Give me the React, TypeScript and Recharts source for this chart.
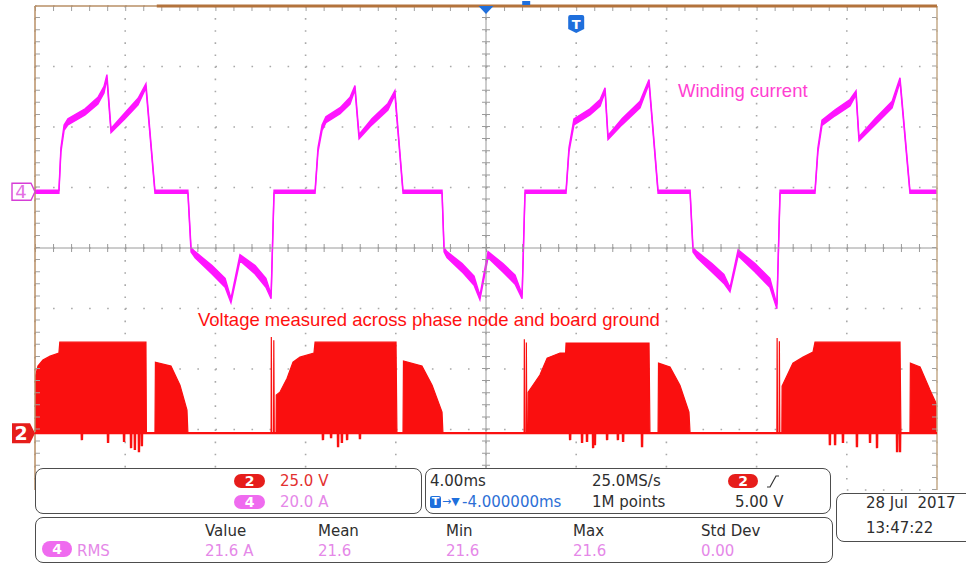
import React from 'react';
import { ComposedChart, Area, Line, XAxis, YAxis, CartesianGrid, ReferenceLine } from 'recharts';

// 10 horizontal divisions of 4.00 ms, 8 vertical divisions
const timeTicks = [0, 4, 8, 12, 16, 20, 24, 28, 32, 36, 40];
const divTicks = [-4, -3, -2, -1, 0, 1, 2, 3, 4];

// channel 4: current probe, channel 2: phase node voltage
const CH4_SCALE = 20; // A/div
const CH4_OFFSET = 0.93; // ground marker, div above centre
const CH2_SCALE = 25; // V/div
const CH2_OFFSET = -3.06;

const CENTER_TIME = 20; // ms
const TRIGGER_TIME = 24; // ms

// [time ms, current A, ripple A p-p]
const windingCurrent: [number, number, number][] = [
  [0.0, 0, 1.0], [1.06, 0, 1.0], [1.15, 13.9, 1.4], [1.29, 21.2, 1.8], [1.46, 23.1, 2.0],
  [2.22, 26.4, 2.0], [2.79, 30.1, 2.2], [3.06, 33.7, 2.2], [3.19, 38.0, 1.4],
  [3.37, 20.2, 1.4], [3.99, 25.1, 2.0], [4.57, 29.8, 2.2], [4.92, 35.0, 1.4],
  [5.32, 0, 1.0], [6.78, 0, 1.0], [6.92, -19.2, 1.4], [7.1, -20.8, 2.0],
  [7.85, -25.8, 2.8], [8.43, -30.1, 3.0], [8.69, -36.0, 1.4], [9.09, -21.8, 2.0],
  [9.76, -25.8, 2.8], [10.24, -30.1, 3.0], [10.47, -34.7, 1.4], [10.6, 0, 1.0],

  [12.42, 0, 1.0], [12.55, 13.9, 1.4], [12.73, 21.2, 1.8], [12.9, 23.8, 2.0],
  [13.53, 26.8, 2.0], [13.97, 30.1, 2.2], [14.19, 34.4, 1.4], [14.37, 18.2, 1.4],
  [14.94, 23.1, 2.0], [15.65, 28.1, 2.2], [15.96, 32.7, 1.4], [16.32, 0, 1.0],
  [18.05, 0, 1.0], [18.14, -19.2, 1.4], [18.27, -20.8, 2.0], [18.94, -25.1, 2.8],
  [19.47, -29.4, 3.0], [19.73, -35.0, 1.4], [20.09, -20.8, 2.0], [20.75, -25.1, 2.8],
  [21.29, -29.1, 3.0], [21.6, -34.7, 1.4], [21.73, 0, 1.0],

  [23.55, 0, 1.0], [23.68, 13.9, 1.4], [23.9, 23.1, 2.0], [24.61, 26.4, 2.0],
  [25.06, 29.4, 2.2], [25.28, 33.7, 1.4], [25.41, 17.9, 1.4], [26.03, 23.1, 2.0],
  [26.83, 28.8, 2.2], [27.23, 36.4, 1.4], [27.63, 0, 1.0], [29.05, 0, 1.0],
  [29.18, -19.2, 1.4], [29.36, -20.8, 2.0], [30.02, -25.1, 2.8], [30.55, -28.8, 3.0],
  [30.82, -32.4, 1.4], [31.18, -20.2, 2.0], [31.93, -25.1, 2.8], [32.59, -30.1, 3.0],
  [32.9, -38.0, 1.4], [33.04, 0, 1.0],

  [34.59, 0, 1.0], [34.72, 13.9, 1.4], [34.9, 22.8, 1.8], [35.48, 26.1, 2.0],
  [36.14, 29.4, 2.2], [36.41, 32.7, 1.4], [36.54, 17.5, 1.4], [37.25, 23.1, 2.0],
  [38.01, 28.8, 2.2], [38.36, 37.0, 1.4], [38.8, 0, 1.0], [40.0, 0, 1.0],
];

// [time ms, V] envelope of the switching phase node (PWM fills solid at this timebase)
const phaseVoltage: [number, number][] = [
  [0.0, 22.7], [0.13, 27.7], [0.35, 30.2], [0.67, 31.8], [1.06, 33.1], [1.1, 37.6],
  [4.92, 37.6], [4.94, 0], [5.32, 0], [5.34, 29.3], [6.03, 27.7], [6.43, 19.8],
  [6.74, 9.5], [6.78, 0],
  [10.47, 0], [10.48, 39.7], [10.5, 0], [10.58, 0], [10.59, 38.4], [10.61, 0],
  [10.69, 0], [10.7, 15.7], [10.86, 16.9], [11.18, 22.7], [11.44, 29.3], [11.75, 31.4],
  [12.37, 33.1], [12.42, 37.6], [16.01, 37.6], [16.05, 0], [16.32, 0], [16.34, 29.8],
  [17.16, 27.7], [17.61, 19.8], [18.05, 8.7], [18.09, 0],
  [21.69, 0], [21.7, 38.8], [21.72, 0], [21.78, 0], [21.79, 37.5], [21.81, 0],
  [21.86, 0], [21.87, 16.9], [22.08, 19.8], [22.39, 24.0], [22.71, 31.0], [23.28, 33.1],
  [23.53, 33.1], [23.55, 37.2], [27.23, 37.2], [27.27, 0], [27.63, 0], [27.65, 28.9],
  [28.16, 27.3], [28.6, 19.8], [29.0, 8.7], [29.05, 0],
  [32.9, 0], [32.91, 39.3], [32.93, 0], [33.0, 0], [33.01, 38.0], [33.03, 0],
  [33.12, 0], [33.13, 19.4], [33.61, 28.9], [34.06, 31.4], [34.5, 33.5], [34.59, 37.6],
  [38.36, 37.6], [38.4, 0], [38.8, 0], [38.82, 28.9], [39.25, 27.3], [39.69, 17.8],
  [40.0, 11.6],
];

// [time ms, V] negative ringing below ground
const groundSpikes: [number, number][] = [
  [2.08, -2.9], [3.24, -4.1], [3.95, -3.7], [4.26, -6.2], [4.43, -7.0], [4.61, -7.9], [4.74, -5.4],
  [12.77, -2.9], [13.13, -2.1], [13.44, -5.8], [13.61, -4.1], [13.84, -2.9], [14.41, -2.5],
  [23.73, -2.9], [24.26, -4.1], [24.48, -3.7], [24.75, -6.2], [24.83, -5.0], [25.37, -2.9],
  [25.85, -2.9], [26.08, -3.7], [26.92, -5.8],
  [35.25, -5.0], [35.48, -5.0], [35.83, -4.1], [36.45, -5.8], [37.03, -4.1], [37.34, -6.2],
  [38.23, -7.9], [38.36, -7.9],
];

// readouts
const scaleReadouts = [
  { ch: '2', text: '25.0 V' },
  { ch: '4', text: '20.0 A' },
];
const measureHeaders = ['Value', 'Mean', 'Min', 'Max', 'Std Dev'];
const measureValues = ['21.6 A', '21.6', '21.6', '21.6', '0.00'];
const measureCols = [205, 318, 446, 573, 701];

const MAGENTA = '#ff14ff';
const RED = '#fa0f0f';
const GRID = '#a9a9a9';
const BLUE = '#1f6fdc';
const CH4_TEXT = '#e588e8';
const CH4_PILL = '#ef6bef';
const CH2_PILL = '#e61d1b';
const FONT = '"DejaVu Sans", Verdana, sans-serif';
const LABEL_FONT = '"Liberation Sans", Arial, sans-serif';

const ch4Domain = [(-4 - CH4_OFFSET) * CH4_SCALE, (4 - CH4_OFFSET) * CH4_SCALE];
const ch2Domain = [(-4 - CH2_OFFSET) * CH2_SCALE, (4 - CH2_OFFSET) * CH2_SCALE];

type Row = { t: number; band?: [number, number]; volt?: number; gnd?: number };

const groundLine: [number, number][] = [
  [0, 0],
  ...groundSpikes.flatMap(([t, v]) => [[t - 0.008, 0], [t, v], [t + 0.008, 0]] as [number, number][]),
  [40, 0],
];

const rows: Row[] = [
  ...windingCurrent.map(([t, a, r]) => ({ t, band: [a - r / 2, a + r / 2] as [number, number] })),
  ...phaseVoltage.map(([t, v]) => ({ t, volt: v })),
  ...groundLine.map(([t, v]) => ({ t, gnd: v })),
].sort((a, b) => a.t - b.t);

const Ch4Marker = (props: any) => {
  const { x, y } = props.viewBox;
  return (
    <g>
      <path d={`M${x - 23},${y - 8.5} H${x - 4} L${x},${y} L${x - 4},${y + 8.5} H${x - 23} Z`}
        fill="#fff" stroke="#d63ed6" strokeWidth={1.4} />
      <text x={x - 14} y={y + 6.5} textAnchor="middle" fontSize={18} fill="#e46fe4" fontFamily={FONT}>4</text>
    </g>
  );
};

const Ch2Marker = (props: any) => {
  const { x, y } = props.viewBox;
  return (
    <g>
      <path d={`M${x - 23},${y - 10} H${x - 5} L${x},${y} L${x - 5},${y + 10} H${x - 23} Z`} fill={CH2_PILL} />
      <text x={x - 14} y={y + 7} textAnchor="middle" fontSize={19} fontWeight="bold" fill="#fff" fontFamily={FONT}>2</text>
    </g>
  );
};

const CenterMarker = (props: any) => {
  const { x, y, height } = props.viewBox;
  const top = Math.min(y, y + height);
  return <polygon points={`${x - 7.5},${top} ${x + 7.5},${top} ${x},${top + 8}`} fill={BLUE} />;
};

const TriggerMarker = (props: any) => {
  const { x, y, height } = props.viewBox;
  const top = Math.min(y, y + height);
  return (
    <g>
      <rect x={x - 54} y={top - 5} width={8} height={4} fill={BLUE} />
      <path d={`M${x - 8},${top + 11} Q${x - 8},${top + 9} ${x - 6},${top + 9} H${x + 6} Q${x + 8},${top + 9} ${x + 8},${top + 11} V${top + 23} L${x},${top + 27} L${x - 8},${top + 23} Z`} fill={BLUE} />
      <text x={x} y={top + 22.5} textAnchor="middle" fontSize={13} fontWeight="bold" fill="#fff" fontFamily={FONT}>T</text>
    </g>
  );
};

const Txt = ({ x, y, color = '#2e2e2e', size = 15, children }: any) => (
  <div style={{ position: 'absolute', left: x, top: y - 9, fontSize: size, lineHeight: '18px', color, whiteSpace: 'pre', fontFamily: FONT }}>
    {children}
  </div>
);

const Pill = ({ x, y, w, h, bg, children }: any) => (
  <div style={{
    position: 'absolute', left: x, top: y, width: w, height: h, borderRadius: h / 2, background: bg,
    color: '#fff', fontWeight: 'bold', fontSize: 14, lineHeight: `${h}px`, textAlign: 'center', fontFamily: FONT,
  }}>{children}</div>
);

const Panel = ({ x, y, w, h }: any) => (
  <div style={{
    position: 'absolute', left: x, top: y, width: w, height: h, border: '1.5px solid #4d4d4d',
    borderRadius: 8, background: '#fff', boxSizing: 'border-box',
  }} />
);

export default function App() {
  return (
    <div style={{ position: 'relative', width: 966, height: 563, background: '#fff', overflow: 'hidden' }}>
      <style>{'body{margin:0;background:#fff}'}</style>
      <ComposedChart width={966} height={563} data={rows} margin={{ top: 6, right: 29, bottom: 73, left: 35 }}>
        <XAxis dataKey="t" type="number" domain={[0, 40]} ticks={timeTicks} allowDataOverflow hide />
        <YAxis yAxisId="div" type="number" domain={[-4, 4]} ticks={divTicks} allowDataOverflow hide />
        <YAxis yAxisId="cur" type="number" domain={ch4Domain} allowDataOverflow hide />
        <YAxis yAxisId="volt" type="number" domain={ch2Domain} allowDataOverflow hide />

        {/* dotted graticule */}
        <CartesianGrid yAxisId="div" horizontal={false} stroke={GRID} strokeWidth={1.6} strokeDasharray="1.6 10.5" />
        <CartesianGrid yAxisId="div" vertical={false} stroke={GRID} strokeWidth={1.6} strokeDasharray="1.6 16.44" />

        {/* centre cross with minor ticks */}
        <ReferenceLine yAxisId="div" x={CENTER_TIME} stroke="#9a9a9a" strokeWidth={1} />
        <ReferenceLine yAxisId="div" y={0} stroke="#9a9a9a" strokeWidth={1} />
        <ReferenceLine yAxisId="div" x={CENTER_TIME} stroke="#9a9a9a" strokeWidth={8} strokeDasharray="1 11.1" />
        <ReferenceLine yAxisId="div" y={0} stroke="#9a9a9a" strokeWidth={8} strokeDasharray="1 17.04" />

        {/* edge ticks */}
        <ReferenceLine yAxisId="div" x={0.11} stroke="#a0a0a0" strokeWidth={5} strokeDasharray="1 11.1" />
        <ReferenceLine yAxisId="div" x={39.89} stroke="#a0a0a0" strokeWidth={5} strokeDasharray="1 11.1" />
        <ReferenceLine yAxisId="div" y={3.96} stroke="#a0a0a0" strokeWidth={5} strokeDasharray="1 17.04" />

        {/* frame */}
        <ReferenceLine yAxisId="div" x={0} stroke="#b98f66" strokeWidth={1.5} />
        <ReferenceLine yAxisId="div" x={40} stroke="#c4aa88" strokeWidth={1.5} />
        <ReferenceLine yAxisId="div" y={4} stroke="#b98f66" strokeWidth={1.5} />
        <ReferenceLine yAxisId="div" segment={[{ x: 5.4, y: 4 }, { x: 40, y: 4 }]} stroke="#b3733c" strokeWidth={3} />

        {/* markers */}
        <ReferenceLine yAxisId="cur" y={0} stroke="none" label={Ch4Marker} />
        <ReferenceLine yAxisId="volt" y={0} stroke="none" label={Ch2Marker} />
        <ReferenceLine yAxisId="div" x={CENTER_TIME} stroke="none" label={CenterMarker} />
        <ReferenceLine yAxisId="div" x={TRIGGER_TIME} stroke="none" label={TriggerMarker} />

        {/* channel 2: phase node */}
        <Area yAxisId="volt" type="linear" dataKey="volt" baseValue={0} connectNulls
          stroke={RED} strokeWidth={1.2} fill={RED} fillOpacity={1} dot={false} activeDot={false} isAnimationActive={false} />
        <Line yAxisId="volt" type="linear" dataKey="gnd" connectNulls stroke={RED} strokeWidth={2.4}
          dot={false} activeDot={false} isAnimationActive={false} />

        {/* channel 4: winding current with ripple band */}
        <Area yAxisId="cur" type="linear" dataKey={(r: Row) => r.band} connectNulls
          stroke={MAGENTA} strokeWidth={1.4} fill={MAGENTA} fillOpacity={1} dot={false} activeDot={false} isAnimationActive={false} />
      </ComposedChart>

      <div style={{ position: 'absolute', left: 678, top: 81, fontSize: 18.5, lineHeight: '20px', color: '#ff3fd2', fontFamily: LABEL_FONT, whiteSpace: 'pre' }}>
        Winding current
      </div>
      <div style={{ position: 'absolute', left: 198, top: 310, fontSize: 18.5, lineHeight: '20px', color: '#ff1010', fontFamily: LABEL_FONT, whiteSpace: 'pre' }}>
        Voltage measured across phase node and board ground
      </div>

      {/* vertical scale readout */}
      <Panel x={35} y={468} w={387} h={46} />
      {scaleReadouts.map((s, i) => (
        <React.Fragment key={s.ch}>
          <Pill x={234} y={474 + i * 21} w={31} h={14} bg={s.ch === '2' ? CH2_PILL : CH4_PILL}>{s.ch}</Pill>
          <Txt x={280} y={481 + i * 21} color={s.ch === '2' ? '#e3302f' : CH4_TEXT}>{s.text}</Txt>
        </React.Fragment>
      ))}

      {/* horizontal / trigger readout */}
      <Panel x={425} y={468} w={406} h={46} />
      <Txt x={430} y={481}>4.00ms</Txt>
      <Txt x={592} y={481}>25.0MS/s</Txt>
      <Pill x={728} y={474} w={30} h={14} bg={CH2_PILL}>2</Pill>
      <svg style={{ position: 'absolute', left: 766, top: 474 }} width={14} height={15}>
        <path d="M1,13 H4 L10,2 H13" fill="none" stroke="#333" strokeWidth={1.2} />
      </svg>
      <div style={{ position: 'absolute', left: 430, top: 496, width: 11, height: 12, background: BLUE, borderRadius: 2, color: '#fff', fontSize: 11, fontWeight: 'bold', lineHeight: '12px', textAlign: 'center', fontFamily: FONT }}>T</div>
      <Txt x={442} y={502} color={BLUE} size={11}>→▼</Txt>
      <Txt x={462} y={502} color="#2d6fd6">-4.000000ms</Txt>
      <Txt x={592} y={502}>1M points</Txt>
      <Txt x={735} y={502}>5.00 V</Txt>

      {/* date */}
      <Panel x={836} y={493} w={140} h={49} />
      <Txt x={866} y={503}>28 Jul  2017</Txt>
      <Txt x={866} y={528}>13:47:22</Txt>

      {/* measurements */}
      <Panel x={35} y={517} w={798} h={46} />
      {measureHeaders.map((h, i) => (
        <Txt key={h} x={measureCols[i]} y={531}>{h}</Txt>
      ))}
      <Pill x={42} y={541} w={30} h={16} bg={CH4_PILL}>4</Pill>
      <Txt x={77} y={551} color={CH4_TEXT}>RMS</Txt>
      {measureValues.map((v, i) => (
        <Txt key={i} x={measureCols[i]} y={551} color={CH4_TEXT}>{v}</Txt>
      ))}
    </div>
  );
}
